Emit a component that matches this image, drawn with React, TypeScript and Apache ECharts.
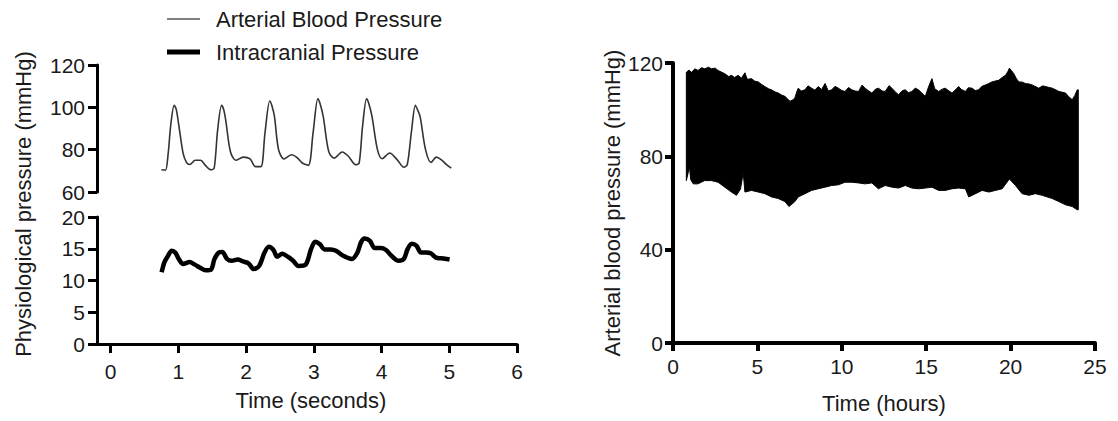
import React, { useEffect, useRef } from "react";
import * as echarts from "echarts";

// Left panel: arterial blood pressure waveform (seconds, mmHg)
const abpTime = [0.75, 0.81, 0.85, 0.89, 0.94, 0.97, 1.01, 1.07, 1.12, 1.17, 1.25, 1.33, 1.40, 1.48, 1.53,
  1.58, 1.64, 1.67, 1.70, 1.77, 1.85, 1.96, 2.06, 2.14, 2.22,
  2.28, 2.35, 2.38, 2.42, 2.48, 2.56, 2.67, 2.75, 2.83, 2.92,
  2.99, 3.06, 3.09, 3.14, 3.22, 3.30, 3.42, 3.51, 3.62, 3.67,
  3.72, 3.78, 3.81, 3.86, 3.94, 4.01, 4.12, 4.23, 4.33, 4.38,
  4.44, 4.50, 4.53, 4.57, 4.65, 4.73, 4.81, 4.88, 4.96, 5.03];
const abpValues = [70.5, 70.3, 78, 92, 101, 99, 91, 78.5, 74, 73, 75, 75, 72.6, 70.5, 71.3,
  89, 101, 99, 94, 79, 75, 76.5, 75.6, 72, 72,
  88, 103, 101, 95.6, 80, 75.6, 77.6, 76.4, 73.7, 72.6,
  88, 104, 102, 95.6, 79.2, 76, 78.9, 76.9, 72.9, 73.7,
  91, 104, 102, 95.6, 80, 75.7, 78.4, 75.3, 71.7, 72.9,
  88, 101, 99, 95.6, 80, 74, 76.5, 75.3, 72.9, 71.3];

// Left panel: intracranial pressure waveform (seconds, mmHg)
const icpTime = [0.754, 0.796, 0.849, 0.902, 0.955, 1.007, 1.071, 1.166, 1.245, 1.324, 1.403, 1.482, 1.535,
  1.598, 1.651, 1.719, 1.788, 1.878, 1.957, 2.036, 2.115, 2.194, 2.273, 2.336, 2.405, 2.458, 2.537,
  2.616, 2.695, 2.774, 2.880, 2.959, 3.022, 3.091, 3.159, 3.249, 3.328, 3.434, 3.565, 3.644, 3.697,
  3.750, 3.829, 3.898, 3.987, 4.066, 4.146, 4.251, 4.330, 4.383, 4.446, 4.515, 4.583, 4.657, 4.726,
  4.805, 4.884, 5.005];
const icpValues = [11.3, 12.9, 13.9, 14.7, 14.4, 13.4, 12.6, 12.9, 12.5, 12.0, 11.6, 11.7, 13.4,
  14.4, 14.5, 13.4, 13.1, 13.3, 13.0, 12.7, 11.8, 12.3, 14.4, 15.3, 14.8, 13.75, 14.2,
  13.75, 13.1, 12.3, 12.5, 14.9, 16.1, 15.7, 14.9, 14.9, 14.7, 13.9, 13.4, 14.4, 16.0,
  16.6, 16.25, 15.1, 15.1, 14.8, 13.9, 13.1, 13.4, 14.9, 15.8, 15.5, 14.4, 14.4, 14.3,
  13.6, 13.5, 13.3];

// Right panel: 24 h arterial blood pressure envelope (hours, mmHg)
const upperHours = [0.79, 0.95, 1.09, 1.3, 1.48, 1.7, 1.88, 2.1, 2.28, 2.5, 2.67, 2.9, 3.07, 3.3, 3.46, 3.65, 3.86, 4.05, 4.26, 4.4,
  4.65, 4.85, 5.05, 5.25, 5.44, 5.65, 5.84, 6.05, 6.24, 6.45, 6.63, 6.8, 6.93, 7.1, 7.22, 7.35, 7.42, 7.6, 7.82, 8.0,
  8.21, 8.4, 8.61, 8.8, 9.01, 9.2, 9.4, 9.6, 9.8, 10.0, 10.19, 10.4, 10.59, 10.8, 10.99, 11.2, 11.38, 11.6, 11.78, 12.0,
  12.17, 12.4, 12.57, 12.8, 12.97, 13.2, 13.36, 13.6, 13.76, 13.95, 14.15, 14.35, 14.55, 14.75, 14.95, 15.15, 15.34, 15.5, 15.74, 15.95,
  16.13, 16.35, 16.53, 16.75, 16.92, 17.1, 17.32, 17.5, 17.72, 17.9, 18.11, 18.3, 18.51, 18.7, 18.9, 19.1, 19.3, 19.5, 19.7, 19.85,
  19.93, 20.05, 20.19, 20.35, 20.49, 20.7, 20.88, 21.1, 21.28, 21.5, 21.67, 21.9, 22.07, 22.3, 22.47, 22.7, 22.86, 23.05, 23.26, 23.45,
  23.65, 23.8, 23.95, 24.01];
const upperValues = [116, 117, 116, 117.5, 116.8, 118, 117.5, 118.2, 117.5, 117.8, 116.8, 116, 115.4, 114.2, 114.7, 113.8, 114.7, 113.5, 115.8, 113,
  113.3, 112.2, 111.9, 110.8, 109.9, 109, 108.5, 107.6, 107.1, 106.2, 105.7, 104.5, 103.6, 104.2, 105, 108, 109.2, 108, 108.5, 110.2,
  109.2, 108.4, 109.9, 108.6, 111.2, 108, 108.5, 110, 109.2, 108.2, 107.8, 109.5, 108.5, 108, 107.8, 110.5, 109.2, 108, 107.1, 108.8,
  109.2, 108, 107.8, 110.3, 109.2, 107.4, 106.4, 108.2, 108.5, 107.3, 107.8, 109.2, 108.5, 107, 105.7, 110, 113.3, 109, 107.8, 108.8,
  109.2, 108, 107.1, 108.6, 109.9, 108.6, 107.8, 109.4, 109.2, 108.2, 108.5, 110, 110.6, 111.2, 111.9, 112.3, 112.6, 113.8, 114.7, 116.5,
  117.8, 116.8, 115.4, 113.2, 111.9, 111.8, 111.2, 111, 110.6, 109.8, 109.2, 110.2, 109.9, 109.5, 109.2, 108.4, 107.8, 107.5, 107.1, 105.5,
  104.3, 106, 108.5, 108.5];
const lowerHours = [0.79, 0.9, 0.97, 1.05, 1.2, 1.48, 1.7, 1.88, 2.28, 2.67, 3.07, 3.46, 3.76, 4.0, 4.16, 4.26, 4.65, 5.05, 5.44, 5.84,
  6.24, 6.63, 6.87, 7.22, 7.42, 7.82, 8.21, 8.61, 9.01, 9.4, 9.8, 10.19, 10.59, 10.99, 11.38, 11.78, 12.17, 12.57, 12.97, 13.36,
  13.76, 14.15, 14.55, 14.95, 15.34, 15.74, 16.13, 16.53, 16.92, 17.32, 17.52, 17.92, 18.31, 18.71, 19.1, 19.5, 19.93, 20.29, 20.68, 21.08,
  21.47, 21.87, 22.47, 22.86, 23.26, 23.65, 23.95, 24.01];
const lowerValues = [69.6, 73, 75.8, 70, 68.2, 68.2, 69, 69.6, 69.6, 68.9, 66.8, 64.7, 63.3, 66, 73.1, 64.7, 65.4, 64.7, 64.0, 62.6,
  61.9, 60.6, 58.5, 60.6, 62.6, 64.0, 65.4, 66.1, 66.8, 67.5, 67.8, 68.9, 68.9, 68.6, 68.2, 68.6, 66.1, 67.5, 66.8, 66.4,
  67.5, 66.4, 66.1, 66.4, 66.8, 65.4, 65.4, 66.1, 66.4, 66.1, 62.6, 64.0, 65.4, 64.7, 65.4, 66.1, 70.3, 67.5, 64.0, 63.3,
  64.0, 63.3, 61.9, 60.6, 59.2, 58.5, 57.1, 57.1];

const secondsTicks = [0, 1, 2, 3, 4, 5, 6];
const legendNames = ["Arterial Blood Pressure", "Intracranial Pressure"];

const FONT = "'Liberation Sans', Arial, Helvetica, sans-serif";

function axisBase(width: number, tickLen: number, margin: number) {
  return {
    axisLine: { show: true, onZero: false, lineStyle: { color: "#000", width } },
    axisTick: { show: true, length: tickLen, lineStyle: { color: "#000", width } },
    axisLabel: { color: "#1a1a1a", fontSize: 21, fontFamily: FONT, margin },
    splitLine: { show: false },
  };
}

export default function App() {
  const ref = useRef<HTMLDivElement>(null);
  useEffect(() => {
    if (!ref.current) return;
    const chart = echarts.init(ref.current, undefined, { renderer: "svg" });
    const left = axisBase(3, 9, 12);
    const right = axisBase(4, 8, 10);
    chart.setOption({
      animation: false,
      backgroundColor: "#fff",
      grid: [
        { left: 97, top: 65, width: 420, height: 127 },
        { left: 97, top: 217, width: 420, height: 127 },
        { left: 673, top: 63, width: 422, height: 280 },
      ],
      xAxis: [
        { type: "value", gridIndex: 0, min: -0.2, max: 6, show: false },
        {
          type: "value", gridIndex: 1, min: -0.2, max: 6,
          ...left,
          axisTick: { ...left.axisTick, customValues: secondsTicks },
          axisLabel: { ...left.axisLabel, margin: 17, customValues: secondsTicks },
        },
        {
          type: "value", gridIndex: 2, min: 0, max: 25, interval: 5,
          ...right,
          axisLabel: { ...right.axisLabel, margin: 13 },
        },
      ],
      yAxis: [
        { type: "value", gridIndex: 0, min: 60, max: 120, interval: 20, ...left },
        { type: "value", gridIndex: 1, min: 0, max: 20, interval: 5, ...left },
        { type: "value", gridIndex: 2, min: 0, max: 120, interval: 40, ...right },
      ],
      series: [
        {
          name: legendNames[0],
          type: "line",
          xAxisIndex: 0,
          yAxisIndex: 0,
          data: abpTime.map((t, i) => [t, abpValues[i]]),
          showSymbol: false,
          smooth: 0.3,
          lineStyle: { color: "#333", width: 1.6 },
        },
        {
          name: legendNames[1],
          type: "line",
          xAxisIndex: 1,
          yAxisIndex: 1,
          data: icpTime.map((t, i) => [t, icpValues[i]]),
          showSymbol: false,
          smooth: 0.3,
          lineStyle: { color: "#000", width: 4.5 },
        },
        {
          type: "custom",
          xAxisIndex: 2,
          yAxisIndex: 2,
          data: [[upperHours[0], upperValues[0]]],
          clip: false,
          renderItem: (_params: any, api: any) => {
            const pts: number[][] = [];
            upperHours.forEach((h, i) => pts.push(api.coord([h, upperValues[i]])));
            for (let i = lowerHours.length - 1; i >= 0; i--) {
              pts.push(api.coord([lowerHours[i], lowerValues[i]]));
            }
            return {
              type: "polygon",
              shape: { points: pts },
              style: { fill: "#000", stroke: "#000", lineWidth: 1 },
            };
          },
        },
      ],
      graphic: [
        { type: "line", shape: { x1: 167, y1: 19, x2: 200, y2: 19 }, style: { stroke: "#555", lineWidth: 1.5 } },
        { type: "line", shape: { x1: 167, y1: 52, x2: 200, y2: 52 }, style: { stroke: "#000", lineWidth: 5 } },
        { type: "text", x: 216, y: 19, style: { text: legendNames[0], font: `22px ${FONT}`, fill: "#1a1a1a", align: "left", verticalAlign: "middle" } },
        { type: "text", x: 216, y: 52, style: { text: legendNames[1], font: `22px ${FONT}`, fill: "#1a1a1a", align: "left", verticalAlign: "middle" } },
        { type: "text", x: 23, y: 204, rotation: Math.PI / 2, style: { text: "Physiological pressure (mmHg)", font: `22px ${FONT}`, fill: "#1a1a1a", align: "center", verticalAlign: "middle" } },
        { type: "text", x: 612, y: 203, rotation: Math.PI / 2, style: { text: "Arterial blood pressure (mmHg)", font: `22px ${FONT}`, fill: "#1a1a1a", align: "center", verticalAlign: "middle" } },
        { type: "text", x: 311, y: 400, style: { text: "Time (seconds)", font: `22px ${FONT}`, fill: "#1a1a1a", align: "center", verticalAlign: "middle" } },
        { type: "text", x: 884, y: 403, style: { text: "Time (hours)", font: `22px ${FONT}`, fill: "#1a1a1a", align: "center", verticalAlign: "middle" } },
      ],
    });
    return () => chart.dispose();
  }, []);
  return (
    <div
      ref={ref}
      style={{ position: "absolute", left: 0, top: 0, width: 1118, height: 421, background: "#fff" }}
    />
  );
}
